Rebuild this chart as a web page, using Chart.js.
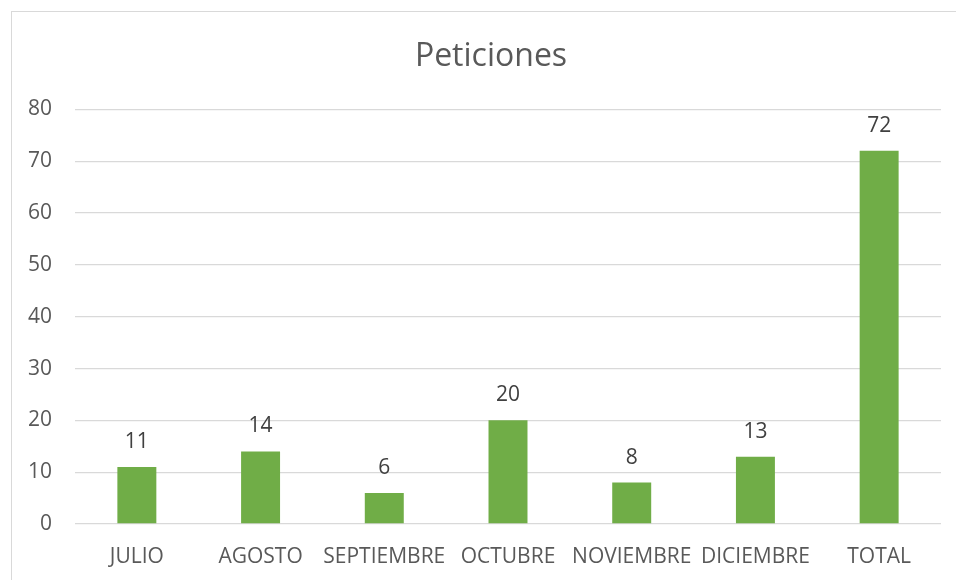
<!DOCTYPE html>
<html>
<head>
<meta charset="utf-8">
<script src="https://cdn.jsdelivr.net/npm/chart.js@4"></script>
<style>
  html, body { margin: 0; padding: 0; background: #fff; overflow: hidden; }
  #box {
    position: absolute; left: 11px; top: 11px;
    width: 960px; height: 580px;
    border: 1px solid #d9d9d9;
    background: #fff;
  }
</style>
</head>
<body>
<div id="box"><canvas id="peticiones" width="960" height="580"></canvas></div>
<script>
const months = ['JULIO', 'AGOSTO', 'SEPTIEMBRE', 'OCTUBRE', 'NOVIEMBRE', 'DICIEMBRE', 'TOTAL'];
const requests = [11, 14, 6, 20, 8, 13, 72];
const yTicks = [0, 10, 20, 30, 40, 50, 60, 70, 80];

const FONT = "'Open Sans', sans-serif";
const GREY = '#595959';

// values above the bars, like excel data labels
const barLabels = {
  id: 'barLabels',
  afterDatasetsDraw(chart) {
    const ctx = chart.ctx;
    const meta = chart.getDatasetMeta(0);
    ctx.save();
    ctx.font = '21px ' + FONT;
    ctx.fillStyle = '#404040';
    ctx.textAlign = 'center';
    ctx.textBaseline = 'middle';
    meta.data.forEach((bar, i) => {
      ctx.fillText(String(requests[i]), bar.x, bar.y - 25);
    });
    ctx.restore();
  }
};

new Chart(document.getElementById('peticiones').getContext('2d'), {
  type: 'bar',
  data: {
    labels: months,
    datasets: [{
      label: 'Peticiones',
      data: requests,
      backgroundColor: '#70ad47',
      categoryPercentage: 1,
      barPercentage: 0.315
    }]
  },
  options: {
    responsive: false,
    animation: false,
    layout: { padding: { left: 0, right: 2, top: 0, bottom: 12 } },
    plugins: {
      legend: { display: false },
      tooltip: { enabled: false },
      title: {
        display: true,
        text: 'Peticiones',
        color: GREY,
        font: { family: FONT, size: 32, weight: 'normal', lineHeight: 1.2 },
        padding: { top: 26, bottom: 33 }
      }
    },
    scales: {
      x: {
        grid: { display: false, drawTicks: false },
        border: { display: false },
        ticks: { color: GREY, font: { family: FONT, size: 21 }, padding: 20, maxRotation: 0, autoSkip: false },
        afterFit(scale) { scale.height = 56; }
      },
      y: {
        min: 0,
        max: 80,
        afterBuildTicks(scale) { scale.ticks = yTicks.map(v => ({ value: v })); },
        grid: { color: '#d9d9d9', lineWidth: 1.3, drawTicks: false },
        border: { display: false },
        ticks: { color: GREY, font: { family: FONT, size: 21 }, padding: 23 },
        afterFit(scale) { scale.width = 63; }
      },
      // empty right-hand space so the plot ends where the original does
      spacer: {
        type: 'linear',
        position: 'right',
        grid: { display: false, drawTicks: false },
        border: { display: false },
        ticks: { display: false },
        afterFit(scale) { scale.width = 29; }
      }
    }
  },
  plugins: [barLabels]
});
</script>
</body>
</html>
